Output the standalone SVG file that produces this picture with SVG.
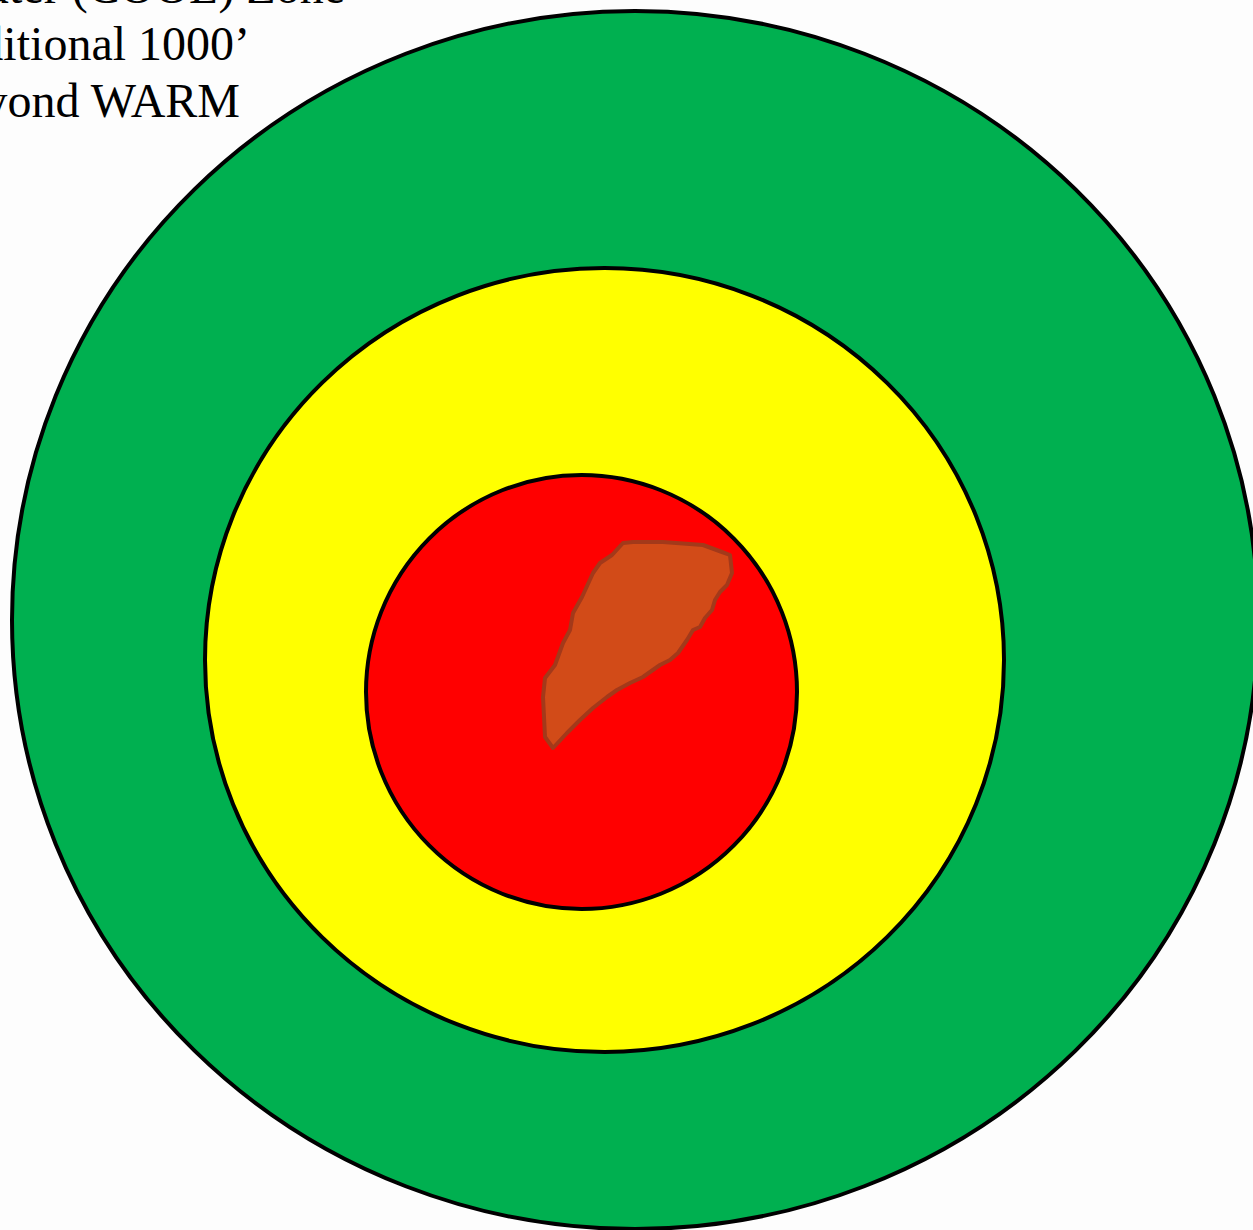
<svg xmlns="http://www.w3.org/2000/svg" width="1253" height="1230" viewBox="0 0 1253 1230">
<style>
.ring{stroke:#000;stroke-width:4}
.lbl{font-family:"Liberation Serif",serif;font-size:48px;fill:#000;text-anchor:end}
</style>
<rect width="1253" height="1230" fill="#fdfdfd"/>
<g id="cool-zone"><ellipse class="ring" cx="635" cy="620" rx="623" ry="609" fill="#00B050"/></g>
<g id="warm-zone"><ellipse class="ring" cx="604.5" cy="660" rx="399.5" ry="392" fill="#FFFF00"/></g>
<g id="hot-zone"><ellipse class="ring" cx="581.5" cy="692" rx="215.5" ry="217" fill="#FF0000"/></g>
<g id="spill"><path d="M553,748 L545,737 L543,697 L545,678 L555,665 L563,643 L570,630 L573,613 L582,597 L593,573 L600,563 L612,555 L623,543 L633,542 L663,542 L703,545 L722,552 L730,555 L732,573 L727,585 L720,592 L715,600 L712,610 L705,618 L700,627 L693,630 L687,640 L678,653 L670,660 L660,665 L650,672 L643,677 L630,683 L617,690 L607,697 L593,708 L580,720 L567,733 Z" fill="#D24B18" stroke="#A3391A" stroke-width="4" stroke-linejoin="round"/></g>
<g id="label">
<text class="lbl" x="345" y="3">Outer (COOL) Zone</text>
<text class="lbl" x="250" y="60">Additional 1000’</text>
<text class="lbl" x="240" y="117">beyond WARM</text>
</g>
</svg>
